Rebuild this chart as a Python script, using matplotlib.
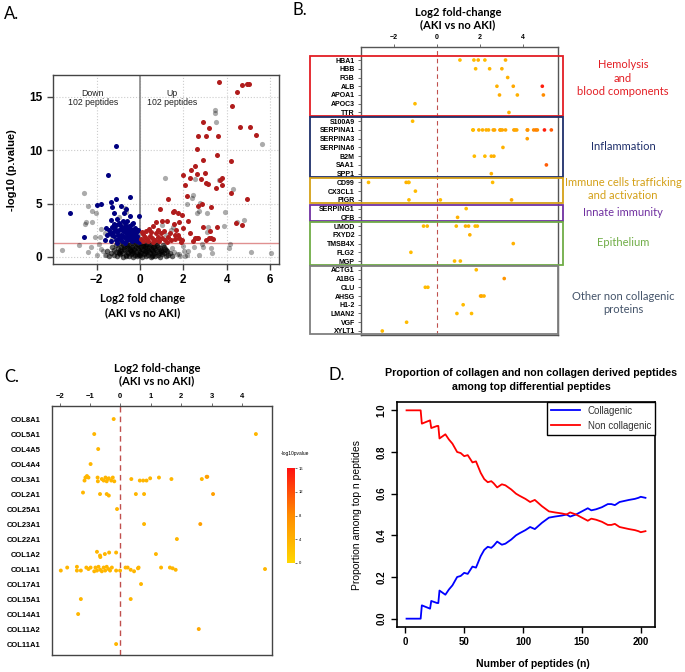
import matplotlib.pyplot as plt
import matplotlib.transforms as mtransforms
from matplotlib.colors import LinearSegmentedColormap, Normalize
from matplotlib.cm import ScalarMappable
from matplotlib.patches import Rectangle

plt.rcParams['font.family'] = ['Liberation Sans', 'DejaVu Sans']
CAL = ['Lato', 'DejaVu Sans']

# ---------------- data: panel A (volcano) ----------------
down_pts = [(-1.12, 10.39), (-1.47, 7.65), (-3.21, 4.15), (-2.58, 1.9), (-2.0, 4.84), (-1.78, 4.96),
            (-1.35, 5.18), (-1.09, 5.43), (-0.46, 5.62), (-1.28, 4.68), (-1.18, 4.15), (-0.86, 4.78),
            (-0.74, 4.15), (-0.63, 4.47), (-0.45, 3.81), (-1.32, 3.46), (-1.05, 3.53), (-0.78, 3.4),
            (-0.05, 3.87), (-1.55, 2.75), (-1.45, 2.5), (-1.4, 2.2), (-1.3, 2.8), (-1.25, 2.35),
            (-1.2, 1.95), (-1.15, 2.65), (-1.1, 3.0), (-1.05, 2.3), (-1.0, 1.7), (-0.95, 2.55),
            (-0.9, 2.95), (-0.88, 2.1), (-0.85, 1.5), (-0.8, 2.4), (-0.75, 2.8), (-0.72, 1.85),
            (-0.7, 3.2), (-0.65, 2.2), (-0.62, 1.55), (-0.6, 2.6), (-0.55, 1.95), (-0.52, 2.9),
            (-0.5, 2.35), (-0.45, 1.7), (-0.42, 2.1), (-0.4, 2.65), (-0.38, 3.05), (-0.35, 1.45),
            (-0.32, 1.9), (-0.3, 2.45), (-0.27, 2.2), (-0.25, 1.6), (-0.22, 2.75), (-0.2, 1.8),
            (-0.18, 2.3), (-0.15, 1.5), (-0.12, 2.0), (-0.1, 2.55), (-0.08, 1.7), (-0.05, 1.4),
            (-1.6, 1.6), (-1.35, 1.45), (-1.05, 1.35), (-0.68, 1.35), (-0.58, 3.35), (-0.95, 3.2),
            (-1.22, 3.1), (-0.3, 3.2), (-1.5, 2.1), (-0.85, 2.7), (-0.65, 2.9), (-0.48, 2.5),
            (-0.78, 1.95), (-0.9, 1.75), (-1.12, 1.55), (-0.6, 1.75), (-0.35, 2.3), (-0.15, 2.45),
            (-0.25, 2.0), (-0.55, 2.15), (-0.7, 2.5), (-1.0, 2.05), (-1.3, 2.05), (-0.42, 1.55)]

up_pts = [(3.63, 16.39), (4.69, 16.1), (4.92, 16.2), (5.02, 16.2), (4.47, 15.42), (4.22, 14.14),
          (2.9, 12.67), (3.18, 12.08), (4.61, 12.14), (5.08, 12.14), (5.33, 11.42), (2.69, 11.3),
          (3.03, 11.3), (3.59, 11.36), (2.61, 10.14), (3.55, 9.55), (2.9, 9.05), (4.19, 8.99),
          (2.52, 8.52), (2.37, 8.15), (2.61, 7.77), (3.0, 7.85), (1.98, 7.7), (2.30, 7.4),
          (2.81, 7.33), (3.04, 6.96), (3.15, 6.8), (3.76, 7.4), (3.69, 7.21), (2.06, 6.74),
          (3.76, 6.74), (3.5, 6.43), (4.19, 5.96), (4.95, 5.4), (2.17, 5.71), (1.31, 5.4),
          (2.86, 4.99), (2.66, 4.78), (3.29, 4.68), (0.94, 4.47), (1.57, 4.34), (1.75, 4.15),
          (1.95, 3.96), (1.51, 4.21), (2.21, 3.37), (1.03, 3.4), (1.26, 3.4), (0.74, 3.3),
          (1.58, 3.06), (1.8, 3.25), (4.42, 3.21), (4.71, 3.0), (2.92, 2.84), (3.55, 2.84),
          (3.23, 2.47), (0.61, 2.9), (0.51, 2.37), (0.84, 2.53), (0.95, 2.22), (1.66, 2.53),
          (1.6, 2.06), (1.75, 2.06), (1.81, 1.75), (1.61, 1.66), (2.63, 1.81), (2.53, 1.75),
          (2.69, 1.75), (3.06, 1.59), (3.18, 1.75), (3.29, 1.75), (3.35, 1.69), (1.9, 1.4),
          (2.46, 1.53), (0.15, 2.12), (0.15, 1.53), (0.31, 1.66), (0.54, 1.75), (0.69, 1.59),
          (0.84, 1.9), (1.15, 1.59), (1.23, 1.4), (0.3, 2.4), (0.45, 1.95), (0.6, 1.4),
          (0.35, 1.45), (0.05, 1.7), (0.25, 1.9), (1.0, 1.8), (1.4, 2.2), (0.75, 2.2),
          (1.1, 2.45), (0.4, 2.65), (1.3, 1.85), (0.9, 1.45), (1.45, 1.55), (0.1, 2.35),
          (2.0, 2.7), (2.3, 2.2), (1.95, 1.6)]

# non significant peptides, scattered ones
ns_pts = [(-2.58, 5.96), (-2.5, 3.3), (-2.52, 3.06), (-2.21, 3.3), (-2.38, 4.78), (-2.21, 4.34),
          (-2.03, 4.09), (-3.61, 0.65), (-2.27, 0.91), (-2.06, 1.9), (-1.78, 2.59), (-1.86, 1.9),
          (-1.6, 2.22), (-1.55, 0.19), (-0.98, 3.77), (-0.71, 4.56), (-0.66, 4.24), (-0.78, 3.15),
          (-2.0, 0.2), (-1.9, 1.2), (-2.4, 0.5), (-1.7, 0.6), (-2.8, 1.1), (3.44, 13.76),
          (3.44, 13.45), (3.49, 12.67), (5.61, 10.55), (1.14, 7.37), (2.53, 7.3), (3.66, 7.21),
          (4.3, 6.34), (2.43, 5.8), (2.38, 5.55), (2.15, 4.93), (2.76, 5.09), (2.73, 4.31),
          (2.61, 4.09), (3.1, 4.09), (3.92, 4.24), (4.79, 3.46), (4.46, 3.31), (3.89, 2.9),
          (3.15, 2.84), (3.07, 2.37), (1.54, 2.84), (1.41, 2.53), (4.15, 1.22), (4.12, 0.81),
          (5.12, 0.47), (6.02, 0.4), (3.33, 0.4), (3.26, 0.81), (2.92, 0.91), (2.84, 1.22),
          (2.5, 0.9), (2.2, 0.6), (2.7, 0.2), (1.8, 0.3), (2.0, 1.0), (2.07, 0.09), (1.2, 2.1),
          (1.0, 3.0), (-1.02, 1.46), (-0.72, 1.42), (-0.41, 1.51), (-0.21, 1.44), (0.32, 1.48),
          (-0.6, 1.8), (-0.95, 2.1), (0.2, 1.9), (-1.3, 1.7), (1.86, 0.1), (2.18, 0.2), (2.03, 0.52),
          (-1.81, 0.79), (-1.63, 0.22), (1.72, 0.23), (1.58, 0.49), (1.49, 0.83)]

# non significant peptides, dense core around zero
ns_core = [(-1.42, 0.05), (-1.05, 0.08), (-0.78, 0.03), (-0.52, 0.06), (-0.31, 0.02), (-0.12, 0.07),
           (0.08, 0.04), (0.27, 0.09), (0.49, 0.03), (0.71, 0.06), (0.93, 0.02), (1.18, 0.08),
           (1.47, 0.05), (-1.21, 0.18), (-0.92, 0.24), (-0.63, 0.19),
           (-0.41, 0.23), (-0.22, 0.17), (0.02, 0.21), (0.19, 0.25), (0.38, 0.18), (0.61, 0.22),
           (0.82, 0.2), (1.03, 0.24), (1.31, 0.19), (-1.33, 0.37),
           (-0.99, 0.33), (-0.81, 0.38), (-0.57, 0.34), (-0.36, 0.39), (-0.16, 0.32), (0.06, 0.36),
           (0.24, 0.38), (0.46, 0.33), (0.66, 0.37), (0.87, 0.35), (1.12, 0.39), (1.39, 0.34),
           (-1.52, 0.52), (-1.12, 0.48), (-0.86, 0.53), (-0.62, 0.49), (-0.42, 0.54), (-0.19, 0.5),
           (0.01, 0.47), (0.21, 0.53), (0.42, 0.49), (0.58, 0.55), (0.79, 0.5), (1.01, 0.46),
           (1.24, 0.53), (-1.18, 0.66), (-0.91, 0.63), (-0.68, 0.68),
           (-0.47, 0.64), (-0.26, 0.69), (-0.04, 0.62), (0.16, 0.67), (0.36, 0.64), (0.56, 0.69),
           (0.74, 0.63), (0.97, 0.67), (1.21, 0.65), (-1.02, 0.82), (-0.73, 0.77),
           (-0.51, 0.83), (-0.29, 0.78), (-0.09, 0.84), (0.11, 0.79), (0.31, 0.82), (0.52, 0.77),
           (0.69, 0.83), (0.91, 0.8), (1.14, 0.78), (-1.28, 0.96), (-0.88, 0.93),
           (-0.61, 0.98), (-0.39, 0.94), (-0.18, 0.97), (0.03, 0.92), (0.22, 0.98), (0.41, 0.95),
           (0.62, 0.93), (0.84, 0.97), (1.09, 0.94), (-1.09, 1.12), (-0.79, 1.08), (-0.54, 1.13),
           (-0.31, 1.09), (-0.11, 1.14), (0.12, 1.1), (0.29, 1.07), (0.53, 1.12), (0.78, 1.09),
           (1.06, 1.13), (-0.92, 1.26), (-0.58, 1.24), (-0.36, 1.28), (-0.14, 1.23), (0.04, 1.27),
           (0.26, 1.25), (0.48, 1.22), (0.73, 1.27), (-0.65, 0.12), (-0.05, 0.15), (0.55, 0.12),
           (-0.3, 0.45), (0.3, 0.6), (-0.75, 0.9), (0.15, 1.02), (0.65, 1.02), (-0.45, 0.72),
           (0.95, 0.55), (-0.95, 0.42)]

a_xticks = [-2, 0, 2, 4, 6]
a_yticks = [0, 5, 10, 15]
p_threshold = 1.301

# ---------------- data: panel B (non collagen genes) ----------------
b_genes = ['HBA1', 'HBB', 'FGB', 'ALB', 'APOA1', 'APOC3', 'TTR',
           'S100A9', 'SERPINA1', 'SERPINA3', 'SERPINA6', 'B2M', 'SAA1', 'SPP1',
           'CD99', 'CX3CL1', 'PIGR', 'SERPING1', 'CFB',
           'UMOD', 'FXYD2', 'TMSB4X', 'FLG2', 'MGP',
           'ACTG1', 'A1BG', 'CLU', 'AHSG', 'H1-2', 'LMAN2', 'VGF', 'XYLT1']
# (gene, log2 fold change, -log10 p)
b_points = [('HBA1', 1.07, 3), ('HBA1', 1.72, 3), ('HBA1', 1.92, 4), ('HBA1', 2.23, 3), ('HBA1', 3.19, 4),
            ('HBB', 1.8, 3), ('HBB', 2.45, 3.5), ('HBB', 3.02, 4), ('FGB', 3.29, 4),
            ('ALB', 2.79, 4), ('ALB', 3.55, 5), ('ALB', 4.9, 15),
            ('APOA1', 2.91, 4.5), ('APOA1', 3.74, 4), ('APOA1', 4.95, 8),
            ('APOC3', -1.02, 3), ('TTR', 3.35, 4), ('S100A9', -1.13, 3),
            ('SERPINA1', 1.67, 3), ('SERPINA1', 1.69, 3), ('SERPINA1', 1.95, 4), ('SERPINA1', 2.12, 4),
            ('SERPINA1', 2.29, 4), ('SERPINA1', 2.4, 4), ('SERPINA1', 2.62, 5), ('SERPINA1', 2.68, 5),
            ('SERPINA1', 2.93, 6), ('SERPINA1', 2.96, 5), ('SERPINA1', 3.04, 5), ('SERPINA1', 3.19, 5),
            ('SERPINA1', 3.58, 6), ('SERPINA1', 3.64, 5), ('SERPINA1', 3.71, 5), ('SERPINA1', 4.2, 7),
            ('SERPINA1', 4.22, 7), ('SERPINA1', 4.5, 8), ('SERPINA1', 4.6, 9), ('SERPINA1', 4.67, 8),
            ('SERPINA1', 5.0, 15), ('SERPINA1', 5.32, 11),
            ('SERPINA3', 4.2, 6), ('SERPINA6', 3.07, 4),
            ('B2M', 1.74, 3), ('B2M', 2.23, 3), ('B2M', 2.53, 4), ('B2M', 2.65, 4),
            ('SAA1', 5.09, 11), ('SPP1', 2.53, 4),
            ('CD99', -3.18, 3), ('CD99', -1.43, 4), ('CD99', -1.33, 4), ('CD99', -1.3, 3), ('CD99', 2.59, 3),
            ('CX3CL1', -1.0, 3), ('PIGR', -1.3, 3), ('PIGR', 0.16, 3), ('PIGR', 3.47, 5),
            ('SERPING1', 1.36, 3), ('CFB', 0.96, 4),
            ('UMOD', -0.62, 3), ('UMOD', -0.45, 3), ('UMOD', 0.9, 3), ('UMOD', 1.33, 4),
            ('UMOD', 1.47, 4), ('UMOD', 1.78, 3), ('UMOD', 1.88, 3),
            ('FXYD2', 1.53, 4), ('TMSB4X', 3.55, 4), ('FLG2', -1.21, 3),
            ('MGP', 0.82, 3), ('MGP', 1.09, 3), ('ACTG1', 1.83, 3), ('A1BG', 3.13, 7),
            ('CLU', -0.54, 3), ('CLU', -0.42, 3),
            ('AHSG', 2.03, 5), ('AHSG', 2.08, 5), ('AHSG', 2.19, 4),
            ('H1-2', 1.22, 3), ('LMAN2', 0.93, 3), ('LMAN2', 1.61, 3), ('VGF', -1.41, 3), ('XYLT1', -2.54, 3)]
b_xticks = [-2, 0, 2, 4]

# groups: label, first gene, last gene, colour, label y (px)
b_groups = [('Hemolysis\nand\nblood components', 'HBA1', 'TTR', '#E31E24', 78),
            ('Inflammation', 'S100A9', 'SPP1', '#1F2F6B', 146),
            ('Immune cells trafficking\nand activation', 'CD99', 'PIGR', '#D4A017', 189),
            ('Innate immunity', 'SERPING1', 'CFB', '#7030A0', 213),
            ('Epithelium', 'UMOD', 'MGP', '#70AD47', 243),
            ('Other non collagenic\nproteins', 'ACTG1', 'XYLT1', '#44546A', 303)]
b_box_edges = ['#E31E24', '#1F2F6B', '#D4A017', '#7030A0', '#70AD47', '#7F7F7F']

# ---------------- data: panel C (collagen genes) ----------------
c_genes = ['COL8A1', 'COL5A1', 'COL4A5', 'COL4A4', 'COL3A1', 'COL2A1', 'COL25A1', 'COL23A1',
           'COL22A1', 'COL1A2', 'COL1A1', 'COL17A1', 'COL15A1', 'COL14A1', 'COL11A2', 'COL11A1']
# (gene, log2 fold change, -log10 p, jitter within row)
c_points = [('COL8A1', -0.22, 3.5, 0), ('COL5A1', -0.86, 3.5, 0), ('COL5A1', 4.46, 3.5, 0),
            ('COL4A5', -0.73, 3.5, 0), ('COL4A4', -0.98, 3.5, 0),
            ('COL3A1', -1.18, 3.5, 0.1), ('COL3A1', -1.15, 3.5, -0.1), ('COL3A1', -1.1, 3.5, -0.2),
            ('COL3A1', -1.05, 3.5, -0.1), ('COL3A1', -0.75, 3.5, -0.1), ('COL3A1', -0.74, 3.5, 0.15),
            ('COL3A1', -0.61, 3.5, 0), ('COL3A1', -0.55, 3.5, 0.1), ('COL3A1', -0.49, 3.5, -0.1),
            ('COL3A1', -0.45, 3.5, 0.15), ('COL3A1', -0.42, 3.5, 0), ('COL3A1', -0.38, 3.5, -0.05),
            ('COL3A1', -0.3, 3.5, 0.1), ('COL3A1', -0.25, 3.5, -0.1), ('COL3A1', -0.2, 3.5, 0.15),
            ('COL3A1', 0.36, 3.5, 0), ('COL3A1', 0.64, 3.5, 0.1), ('COL3A1', 0.75, 3.5, 0.1),
            ('COL3A1', 0.86, 3.5, 0.1), ('COL3A1', 0.98, 3.5, -0.05), ('COL3A1', 1.27, 3.5, -0.1),
            ('COL3A1', 1.68, 3.5, 0), ('COL3A1', 2.68, 3.5, 0), ('COL3A1', 2.84, 6, -0.15),
            ('COL3A1', 2.86, 6, -0.15),
            ('COL2A1', -1.23, 3.5, -0.1), ('COL2A1', -0.67, 3.5, 0), ('COL2A1', -0.45, 3.5, 0),
            ('COL2A1', -0.38, 3.5, 0.1), ('COL2A1', 0.51, 3.5, 0), ('COL2A1', 0.78, 3.5, 0),
            ('COL2A1', 3.05, 6, 0),
            ('COL25A1', -0.11, 3.5, 0), ('COL23A1', 0.78, 3.5, 0), ('COL23A1', 2.63, 6, 0),
            ('COL22A1', 1.86, 3.5, 0),
            ('COL1A2', -0.77, 3.5, -0.15), ('COL1A2', -0.67, 3.5, 0.1), ('COL1A2', -0.66, 3.5, 0.2),
            ('COL1A2', -0.51, 3.5, 0), ('COL1A2', -0.37, 3.5, -0.1), ('COL1A2', -0.14, 3.5, -0.1),
            ('COL1A2', 1.17, 3.5, 0),
            ('COL1A1', -1.96, 3.5, 0.1), ('COL1A1', -1.75, 3.5, -0.1), ('COL1A1', -1.43, 3.5, -0.15),
            ('COL1A1', -1.43, 3.5, 0.1), ('COL1A1', -1.3, 3.5, 0.1), ('COL1A1', -1.12, 3.5, -0.1),
            ('COL1A1', -1.05, 3.5, 0), ('COL1A1', -0.98, 3.5, -0.1), ('COL1A1', -0.86, 3.5, 0.15),
            ('COL1A1', -0.82, 3.5, -0.1), ('COL1A1', -0.77, 3.5, 0.1), ('COL1A1', -0.72, 3.5, -0.15),
            ('COL1A1', -0.66, 3.5, 0.05), ('COL1A1', -0.61, 3.5, 0.15), ('COL1A1', -0.55, 3.5, -0.1),
            ('COL1A1', -0.5, 3.5, 0.1), ('COL1A1', -0.45, 3.5, -0.15), ('COL1A1', -0.39, 3.5, 0),
            ('COL1A1', -0.34, 3.5, 0.1), ('COL1A1', -0.28, 3.5, -0.1), ('COL1A1', -0.14, 3.5, 0.1),
            ('COL1A1', -0.01, 3.5, 0.1), ('COL1A1', 0.17, 3.5, -0.1), ('COL1A1', 0.24, 3.5, -0.1),
            ('COL1A1', 0.34, 3.5, 0.05), ('COL1A1', 0.45, 3.5, 0.15), ('COL1A1', 0.58, 3.5, -0.05),
            ('COL1A1', 0.6, 3.5, -0.1), ('COL1A1', 1.34, 3.5, -0.1), ('COL1A1', 1.63, 3.5, -0.1),
            ('COL1A1', 1.72, 3.5, -0.05), ('COL1A1', 1.82, 3.5, 0.05), ('COL1A1', 4.76, 3.5, 0),
            ('COL17A1', 0.68, 3.5, 0), ('COL15A1', -1.3, 3.5, 0), ('COL15A1', 0.34, 3.5, 0),
            ('COL14A1', -1.39, 3.5, 0), ('COL11A2', 2.58, 5, 0), ('COL11A1', -0.14, 3.5, 0)]
c_xticks = [-2, -1, 0, 1, 2, 3, 4]
cbar_ticks = [0, 4, 8, 12, 16]

# ---------------- data: panel D (proportions) ----------------
n_peptides = [1, 13, 14, 21, 22, 27, 28, 29, 34, 37, 40, 44, 47, 50, 53, 57, 60, 64, 67, 70, 73,
              75, 78, 82, 85, 90, 94, 97, 102, 106, 110, 116, 122, 127, 133, 137, 140, 145, 150,
              155, 158, 162, 167, 172, 175, 178, 182, 186, 190, 195, 198, 200, 204]
collagenic = [0.0, 0.0, 0.064, 0.048, 0.085, 0.075, 0.075, 0.135, 0.115, 0.14, 0.16, 0.2, 0.205,
              0.22, 0.215, 0.25, 0.245, 0.3, 0.33, 0.345, 0.34, 0.35, 0.37, 0.355, 0.36, 0.38, 0.4,
              0.41, 0.425, 0.44, 0.43, 0.46, 0.485, 0.49, 0.495, 0.5, 0.49, 0.5, 0.515, 0.53, 0.52,
              0.525, 0.535, 0.55, 0.55, 0.545, 0.56, 0.565, 0.57, 0.575, 0.58, 0.585, 0.58]
non_collagenic = [1.0, 1.0, 0.936, 0.952, 0.915, 0.925, 0.925, 0.865, 0.885, 0.86, 0.84, 0.8, 0.795,
                  0.78, 0.785, 0.75, 0.755, 0.7, 0.67, 0.655, 0.66, 0.65, 0.63, 0.645, 0.64, 0.62, 0.6,
                  0.59, 0.575, 0.56, 0.57, 0.54, 0.515, 0.51, 0.505, 0.5, 0.51, 0.5, 0.485, 0.47, 0.48,
                  0.475, 0.465, 0.45, 0.45, 0.455, 0.44, 0.435, 0.43, 0.425, 0.42, 0.415, 0.42]

# ---------------- figure ----------------
W, H = 685, 672
fig = plt.figure(figsize=(W / 100, H / 100), dpi=100)


def px_axes(l, t, r, b):
    return fig.add_axes([l / W, 1 - b / H, (r - l) / W, (b - t) / H])


def px_text(x, y, s, **kw):
    return fig.text(x / W, 1 - y / H, s, **kw)


pv_cmap = LinearSegmentedColormap.from_list('pv', ['#FFD700', '#FF8C00', '#FF1010'])
pv_norm = Normalize(0, 16)

# panel letters
px_text(4, 14, 'A.', fontsize=12, family=CAL, va='center')
px_text(292, 10, 'B.', fontsize=12, family=CAL, va='center')
px_text(4, 377, 'C.', fontsize=12, family=CAL, va='center')
px_text(328, 375, 'D.', fontsize=12, family=CAL, va='center')

# ---- A ----
axA = px_axes(53, 75, 279, 264)
axA.grid(True, ls=':', color='#cccccc', lw=0.8)
axA.set_axisbelow(True)
axA.axvline(0, color='#888888', lw=1.2, zorder=1)
axA.axhline(p_threshold, color='#E09090', lw=1, zorder=1)
axA.scatter([p[0] for p in ns_pts], [p[1] for p in ns_pts], s=14, c='black', alpha=0.33, lw=0, zorder=2)
axA.scatter([p[0] for p in ns_core], [p[1] for p in ns_core], s=16, c='black', alpha=0.6, lw=0, zorder=2)
axA.scatter([p[0] for p in down_pts], [p[1] for p in down_pts], s=13, c='#000080', lw=0, zorder=3)
axA.scatter([p[0] for p in up_pts], [p[1] for p in up_pts], s=13, c='#B01C1C', lw=0, zorder=3)
axA.set_xlim(-4.01, 6.41)
axA.set_ylim(-0.66, 17.04)
axA.set_xticks(a_xticks)
axA.set_yticks(a_yticks)
axA.tick_params(labelsize=8.5, length=4, width=1, color='#444444')
for lab in axA.get_xticklabels() + axA.get_yticklabels():
    lab.set_fontweight('bold')
for sp in axA.spines.values():
    sp.set_color('#444444')
    sp.set_linewidth(1)
axA.text(-2.17, 14.9, 'Down\n102 peptides', ha='center', va='center', fontsize=6.3, color='#222222',
         linespacing=1.1)
axA.text(1.46, 14.9, 'Up\n102 peptides', ha='center', va='center', fontsize=6.3, color='#222222',
         linespacing=1.1)
px_text(12, 170, '-log10 (p.value)', rotation=90, ha='center', va='center', fontsize=8, fontweight='bold')
px_text(143, 299, 'Log2 fold change', ha='center', va='center', fontsize=8, family=CAL, fontweight='bold')
px_text(143, 313, '(AKI vs no AKI)', ha='center', va='center', fontsize=8, family=CAL, fontweight='bold')

# ---- B ----
axB = px_axes(361, 47, 558, 335)
b_row = {g: i for i, g in enumerate(b_genes)}
axB.axvline(0, color='#C0504D', ls=(0, (4, 3)), lw=0.8, zorder=1)
axB.scatter([p[1] for p in b_points], [b_row[p[0]] for p in b_points],
            c=[p[2] for p in b_points], cmap=pv_cmap, norm=pv_norm, s=7, lw=0, zorder=3)
axB.set_xlim(-3.53, 5.63)
axB.set_ylim(31.46, -1.49)
axB.xaxis.tick_top()
axB.set_xticks(b_xticks)
axB.set_yticks(range(len(b_genes)))
axB.set_yticklabels(b_genes)
axB.tick_params(labelsize=5, length=2.5, width=0.6, color='#555555', pad=2)
for lab in axB.get_xticklabels() + axB.get_yticklabels():
    lab.set_fontweight('bold')
for sp in axB.spines.values():
    sp.set_color('#555555')
    sp.set_linewidth(1)
blend = mtransforms.blended_transform_factory(axB.transAxes, axB.transData)
for (label, g0, g1, col, ly), edge in zip(b_groups, b_box_edges):
    top = b_row[g0] - 0.45
    bot = b_row[g1] + 0.4
    right = 1.0 if g0 == 'ACTG1' else 1.027
    axB.add_patch(Rectangle((-0.259, top), right + 0.259, bot - top, transform=blend, fill=False,
                            edgecolor=edge, lw=1.3, clip_on=False, zorder=5))
    px_text(623, ly, label, ha='center', va='center', fontsize=8, family=CAL, color=col,
            linespacing=1.25)
px_text(458, 12, 'Log2 fold-change', ha='center', va='center', fontsize=8, family=CAL, fontweight='bold')
px_text(458, 25, '(AKI vs no AKI)', ha='center', va='center', fontsize=8, family=CAL, fontweight='bold')

# ---- C ----
axC = px_axes(52, 406, 272, 655)
c_row = {g: i for i, g in enumerate(c_genes)}
axC.axvline(0, color='#C0504D', ls=(0, (4, 3)), lw=1, zorder=1)
axC.scatter([p[1] for p in c_points], [c_row[p[0]] + p[3] for p in c_points],
            c=[p[2] for p in c_points], cmap=pv_cmap, norm=pv_norm, s=8, lw=0, zorder=3)
axC.set_xlim(-2.25, 4.99)
axC.set_ylim(15.73, -0.87)
axC.xaxis.tick_top()
axC.set_xticks(c_xticks)
axC.set_yticks(range(len(c_genes)))
axC.set_yticklabels(c_genes)
axC.tick_params(labelsize=5.5, length=2.5, width=0.6, color='#555555', pad=2)
axC.tick_params(axis='y', length=0, pad=8)
for lab in axC.get_xticklabels() + axC.get_yticklabels():
    lab.set_fontweight('bold')
for sp in axC.spines.values():
    sp.set_color('#444444')
    sp.set_linewidth(1)
px_text(157, 368, 'Log2 fold-change', ha='center', va='center', fontsize=8, family=CAL, fontweight='bold')
px_text(157, 381, '(AKI vs no AKI)', ha='center', va='center', fontsize=8, family=CAL, fontweight='bold')

cax = px_axes(287, 468, 295, 563)
cb = fig.colorbar(ScalarMappable(norm=pv_norm, cmap=pv_cmap), cax=cax, ticks=cbar_ticks)
cb.outline.set_visible(False)
cb.ax.tick_params(labelsize=3, length=1.5, width=0.4, pad=1)
px_text(295, 454, '-log10pvalue', ha='center', va='center', fontsize=3.5)

# ---- D ----
axD = px_axes(397, 402, 655, 627)
axD.plot(n_peptides, collagenic, color='#0000FF', lw=1.3, label='Collagenic')
axD.plot(n_peptides, non_collagenic, color='#FF0000', lw=1.3, label='Non collagenic')
axD.set_xlim(-7.1, 212.1)
axD.set_ylim(-0.04, 1.04)
axD.set_xticks([0, 50, 100, 150, 200])
axD.set_yticks([0.0, 0.2, 0.4, 0.6, 0.8, 1.0])
axD.set_yticklabels(['0.0', '0.2', '0.4', '0.6', '0.8', '1.0'], rotation=90, va='center')
axD.tick_params(labelsize=7, length=4, width=1)
for lab in axD.get_xticklabels() + axD.get_yticklabels():
    lab.set_fontweight('bold')
for sp in axD.spines.values():
    sp.set_linewidth(1.2)
leg = axD.legend(loc='upper right', fontsize=7, frameon=True, fancybox=False, borderaxespad=0,
                 handlelength=3, edgecolor='black', framealpha=1)
leg.get_frame().set_linewidth(1)
for t in leg.get_texts():
    t.set_color('#333333')
px_text(531, 373, 'Proportion of collagen and non collagen derived peptides', ha='center', va='center',
        fontsize=7.7, fontweight='bold')
px_text(531, 387, 'among top differential peptides', ha='center', va='center', fontsize=7.7,
        fontweight='bold')
px_text(357, 515, 'Proportion among top n peptides', rotation=90, ha='center', va='center', fontsize=7.5)
px_text(533, 664, 'Number of peptides (n)', ha='center', va='center', fontsize=7.5, fontweight='bold')

fig.savefig('out.png', dpi=100)
